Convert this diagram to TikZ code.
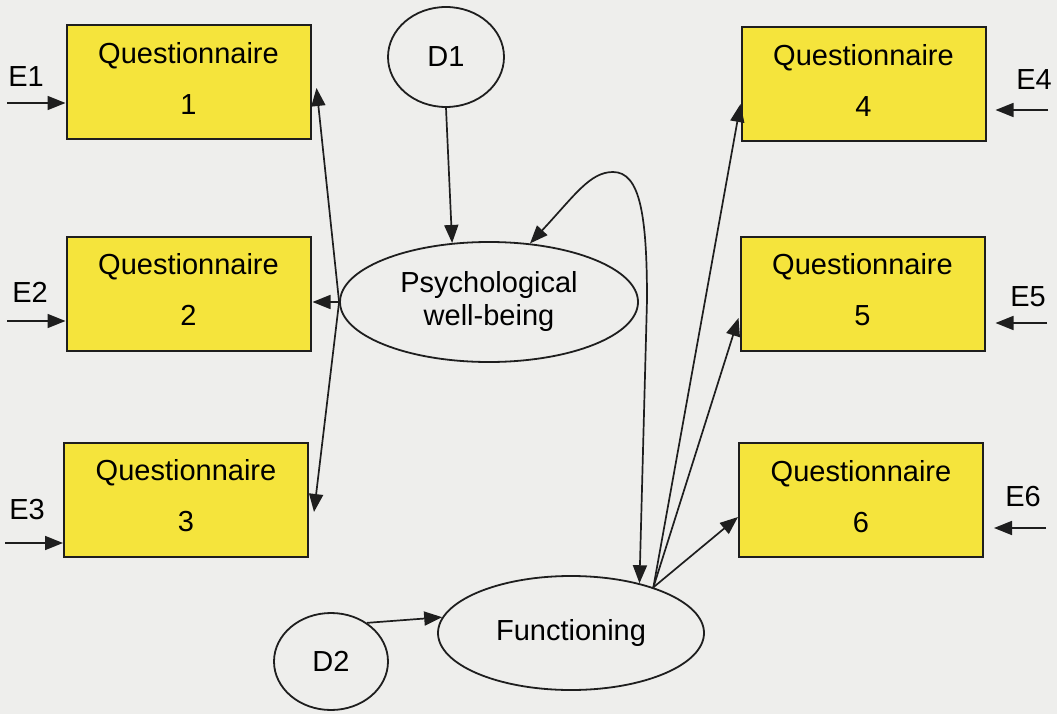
\documentclass[tikz,border=0pt]{standalone}
\usepackage{fontspec}
\setmainfont{Liberation Sans}
\usetikzlibrary{shapes.geometric,arrows.meta,calc}
\definecolor{paper}{RGB}{238,238,236}
\definecolor{qfill}{RGB}{245,228,60}
\definecolor{ink}{RGB}{30,30,30}
\begin{document}
\begin{tikzpicture}[x=1pt,y=-1pt,
  qbox/.style={draw=ink, line width=2pt, fill=qfill, minimum width=244pt,
    minimum height=114pt, inner sep=0pt, align=center, text depth=8pt,
    font=\fontsize{29}{51}\selectfont},
  latent/.style={draw=ink, line width=1.8pt, ellipse, inner sep=0pt,
    align=center, font=\fontsize{29}{33}\selectfont},
  errlabel/.style={font=\fontsize{29}{33}\selectfont, inner sep=0pt},
  link/.style={draw=ink, line width=1.7pt, -{Triangle[length=18pt,width=14pt]}},
  twoway/.style={draw=ink, line width=1.7pt,
    {Triangle[length=18pt,width=14pt]}-{Triangle[length=18pt,width=14pt]}}
]
% paper
\fill[paper] (0,0) rectangle (1057,714);
\useasboundingbox (0,0) rectangle (1057,714);

% observed measures
\node[qbox] (q1) at (188.5,82.5)  {Questionnaire\\1};
\node[qbox] (q2) at (188.5,293.5) {Questionnaire\\2};
\node[qbox] (q3) at (186,499.5)   {Questionnaire\\3};
\node[qbox] (q4) at (863.5,84)    {Questionnaire\\4};
\node[qbox] (q5) at (862.5,293.5) {Questionnaire\\5};
\node[qbox] (q6) at (861,500)     {Questionnaire\\6};

% latent factors and disturbances
\node[latent, minimum width=116pt, minimum height=100pt] (d1) at (446,57) {D1};
\node[latent, minimum width=298pt, minimum height=120pt] (pwb) at (489,302) {Psychological\\well-being};
\node[latent, minimum width=266pt, minimum height=114pt] (fun) at (571,633) {Functioning};
\node[latent, minimum width=114pt, minimum height=97pt] (d2) at (331,661.5) {D2};

% error terms
\node[errlabel] (e1) at (26,77)    {E1};
\node[errlabel] (e2) at (30,292)   {E2};
\node[errlabel] (e3) at (27,510)   {E3};
\node[errlabel] (e4) at (1034,80)  {E4};
\node[errlabel] (e5) at (1028,297) {E5};
\node[errlabel] (e6) at (1023,497) {E6};
\coordinate (e1s) at (7,103);
\coordinate (e2s) at (7,321);
\coordinate (e3s) at (5,543);
\coordinate (e4s) at (1048,110);
\coordinate (e5s) at (1047,323);
\coordinate (e6s) at (1046,528);

\draw[link] (e1s) -- (e1s -| q1.west);
\draw[link] (e2s) -- (e2s -| q2.west);
\draw[link] (e3s) -- (e3s -| q3.west);
\draw[link, shorten >=9pt]  (e4s) -- (e4s -| q4.east);
\draw[link, shorten >=10pt] (e5s) -- (e5s -| q5.east);
\draw[link, shorten >=10pt] (e6s) -- (e6s -| q6.east);

% loadings of psychological well-being
\draw[link] (pwb.west) -- ($(q1.east)+(5,5.5)$);
\draw[link] (pwb.west) -- ($(q2.east)+(1,8.5)$);
\draw[link] (pwb.west) -- ($(q3.east)+(5,12.5)$);

% disturbances
\draw[link] (d1.south) -- (pwb.122);
\draw[link] (d2.47) -- (fun.173);

% correlation between the two factors
\draw[twoway] (pwb.55) .. controls (575,195) and (590,172) .. (613,172)
  .. controls (640,172) and (647,215) .. (647,300) -- (fun.36);

% loadings of functioning
\draw[link] (fun.29) -- ($(q4.west)+(0,20)$);
\draw[link] (fun.29) -- ($(q5.west)+(-1,24.5)$);
\draw[link] (fun.29) -- ($(q6.west)+(0,17)$);
\end{tikzpicture}
\end{document}
